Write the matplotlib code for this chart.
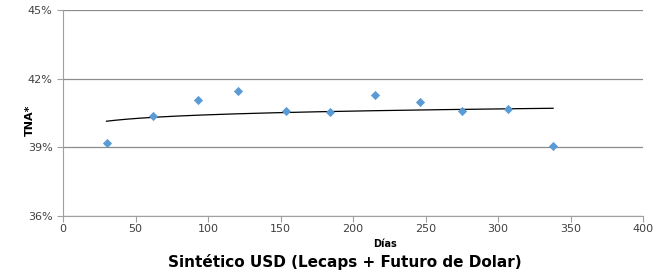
import matplotlib
matplotlib.use("Agg")
import matplotlib.pyplot as plt
import numpy as np

# data
dias = [30, 62, 93, 121, 154, 184, 215, 246, 275, 307, 338]
tna = [39.17, 40.35, 41.05, 41.45, 40.60, 40.53, 41.27, 41.00, 40.57, 40.66, 39.04]
yticks = [36, 39, 42, 45]
xticks = [0, 50, 100, 150, 200, 250, 300, 350, 400]

fig = plt.figure(figsize=(6.53, 2.74), dpi=100)
ax = fig.add_axes([63 / 653, 1 - 216 / 274, 580 / 653, 206 / 274])

ax.scatter(dias, tna, marker="D", s=22, color="#5B9BD5", zorder=3, linewidths=0)

# logarithmic trend line (as in Excel)
b, a = np.polyfit(np.log(dias), tna, 1)
xs = np.linspace(min(dias), max(dias), 200)
ax.plot(xs, a + b * np.log(xs), color="black", lw=0.9, zorder=2)

ax.set_xlim(0, 400)
ax.set_ylim(36, 45)
ax.set_xticks(xticks)
ax.set_yticks(yticks)
ax.set_yticklabels([f"{v}%" for v in yticks])
ax.grid(axis="y", color="#8c8c8c", lw=0.9)
ax.set_axisbelow(True)
for s in ["top", "right"]:
    ax.spines[s].set_visible(False)
for s in ["left", "bottom"]:
    ax.spines[s].set_color("#a0a0a0")
ax.tick_params(axis="both", labelsize=8, colors="#a0a0a0", labelcolor="#404040", length=4)
ax.tick_params(axis="x", pad=2)

fig.text(30 / 653, 1 - 120 / 274, "TNA*", rotation=90, fontsize=8, fontweight="bold",
         ha="center", va="center")
fig.text(385 / 653, 1 - 244 / 274, "Días", fontsize=7, fontweight="bold",
         ha="center", va="center")
fig.text(345 / 653, 1 - 262 / 274, "Sintético USD (Lecaps + Futuro de Dolar)",
         fontsize=11, fontweight="bold", ha="center", va="center")

fig.savefig("out.png", dpi=100)
